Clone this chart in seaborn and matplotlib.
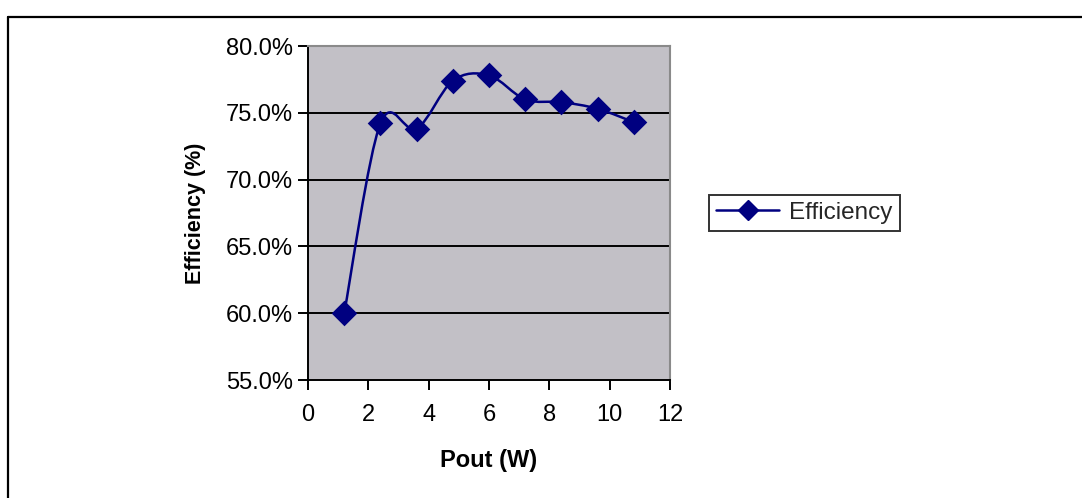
import matplotlib
matplotlib.use("Agg")
import matplotlib.pyplot as plt
import seaborn as sns
import numpy as np
import pandas as pd
from matplotlib.path import Path
from matplotlib.patches import PathPatch
from matplotlib.lines import Line2D
from matplotlib.ticker import FuncFormatter

# Data
pout_w = [1.2, 2.4, 3.6, 4.8, 6.0, 7.2, 8.4, 9.6, 10.8]
efficiency_pct = [60.0, 74.2, 73.8, 77.4, 77.8, 76.0, 75.8, 75.3, 74.3]
x_ticks = [0, 2, 4, 6, 8, 10, 12]
y_ticks = [55.0, 60.0, 65.0, 70.0, 75.0, 80.0]
series_name = "Efficiency"

sns.set_theme(style="white")
plt.rcParams['font.family'] = ['Liberation Sans', 'DejaVu Sans']

NAVY = "#000080"
BG = "#C2C0C6"

fig = plt.figure(figsize=(10.82, 4.98), dpi=100)
ax = fig.add_axes([308/1082, 1-380/498, (670-308)/1082, (380-46)/498])
ax.set_facecolor(BG)

df = pd.DataFrame({"Pout (W)": pout_w, "Efficiency (%)": efficiency_pct})

# Smoothed (Excel-like) curve through the data points: Catmull-Rom -> Bezier
pts = np.column_stack([pout_w, efficiency_pct])
n = len(pts)
verts = [tuple(pts[0])]
codes = [Path.MOVETO]
for i in range(n - 1):
    p0 = pts[i - 1] if i > 0 else pts[i]
    p1 = pts[i]
    p2 = pts[i + 1]
    p3 = pts[i + 2] if i + 2 < n else pts[i + 1]
    c1 = p1 + (p2 - p0) / 6.0
    c2 = p2 - (p3 - p1) / 6.0
    verts += [tuple(c1), tuple(c2), tuple(p2)]
    codes += [Path.CURVE4] * 3
curve = PathPatch(Path(verts, codes), facecolor="none", edgecolor=NAVY, lw=1.8, zorder=3)
ax.add_patch(curve)

sns.scatterplot(data=df, x="Pout (W)", y="Efficiency (%)", marker="D", s=170,
                color=NAVY, edgecolor=NAVY, linewidth=0, zorder=4, ax=ax, legend=False)

ax.set_xlim(0, 12)
ax.set_ylim(55, 80)
ax.set_xticks(x_ticks)
ax.set_yticks(y_ticks)
ax.yaxis.set_major_formatter(FuncFormatter(lambda v, p: f"{v:.1f}%"))

for yv in y_ticks[1:-1]:
    ax.axhline(yv, color="black", lw=1.4, zorder=2)

for side in ["left", "bottom"]:
    ax.spines[side].set_color("black")
    ax.spines[side].set_linewidth(1.4)
for side in ["top", "right"]:
    ax.spines[side].set_color("#8A8A8A")
    ax.spines[side].set_linewidth(1.5)

ax.tick_params(axis="both", which="major", direction="out", length=7, width=1.4,
               color="black", labelsize=17, labelcolor="black", left=True, bottom=True)
ax.tick_params(axis="x", pad=10)
ax.tick_params(axis="y", pad=4)

ax.set_xlabel("Pout (W)", fontsize=17, fontweight="bold", labelpad=17, color="black")
ax.set_ylabel("Efficiency (%)", fontsize=15.5, fontweight="bold", labelpad=14, color="black")

handle = Line2D([0], [0], color=NAVY, lw=1.8, marker="D", markersize=10,
                markerfacecolor=NAVY, markeredgecolor=NAVY)
leg = fig.legend([handle], [series_name], loc="center left",
                 bbox_to_anchor=(709/1082, 1-213/498), frameon=True, fancybox=False,
                 fontsize=17.5, handlelength=2.6, borderpad=0.3, handletextpad=0.4,
                 borderaxespad=0)
leg.get_frame().set_edgecolor("black")
leg.get_frame().set_linewidth(1.4)

# page frame lines
fig.add_artist(Line2D([7.5/1082, 1.0], [1-17.5/498, 1-17.5/498], color="black", lw=1.6,
                      transform=fig.transFigure))
fig.add_artist(Line2D([7.5/1082, 7.5/1082], [0.0, 1-17.5/498], color="black", lw=1.6,
                      transform=fig.transFigure))

fig.savefig("out.png", dpi=100, facecolor="white")
